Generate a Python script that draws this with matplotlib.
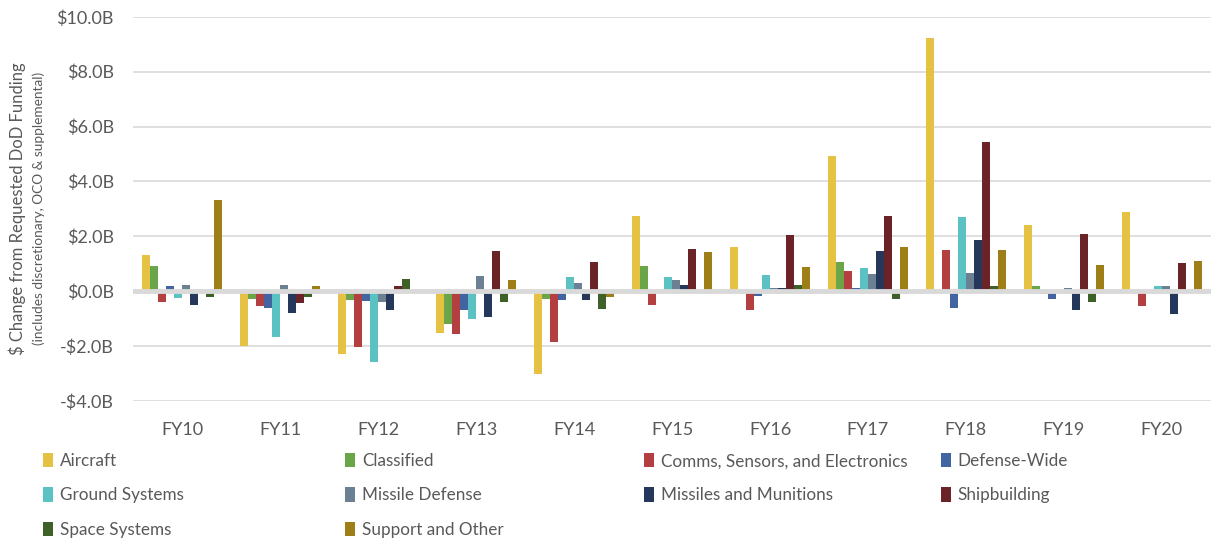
import matplotlib.pyplot as plt
import numpy as np

years = ["FY10", "FY11", "FY12", "FY13", "FY14", "FY15", "FY16", "FY17", "FY18", "FY19", "FY20"]

# $B change from requested, per category
aircraft = [1.30, -2.00, -2.30, -1.54, -3.02, 2.75, 1.62, 4.94, 9.22, 2.40, 2.90]
classified = [0.92, -0.27, -0.32, -1.20, -0.27, 0.90, 0.0, 1.05, 0.0, 0.17, 0.0]
comms = [-0.38, -0.55, -2.05, -1.57, -1.86, -0.49, -0.70, 0.74, 1.50, -0.10, -0.54]
defense_wide = [0.17, -0.60, -0.37, -0.70, -0.32, 0.0, -0.18, 0.10, -0.60, -0.30, 0.0]
ground = [-0.24, -1.67, -2.58, -1.03, 0.50, 0.52, 0.57, 0.85, 2.70, 0.0, 0.19]
missile_def = [0.22, 0.24, -0.40, 0.55, 0.28, 0.39, 0.12, 0.63, 0.67, 0.13, 0.19]
munitions = [-0.49, -0.79, -0.68, -0.95, -0.32, 0.24, 0.10, 1.46, 1.85, -0.70, -0.83]
shipbuilding = [0.0, -0.44, 0.19, 1.46, 1.07, 1.54, 2.05, 2.73, 5.43, 2.09, 1.02]
space = [-0.20, -0.20, 0.44, -0.40, -0.66, 0.0, 0.22, -0.29, 0.17, -0.41, 0.0]
support = [3.33, 0.19, 0.0, 0.41, -0.23, 1.43, 0.88, 1.62, 1.50, 0.94, 1.10]

labels = ["Aircraft", "Classified", "Comms, Sensors, and Electronics", "Defense-Wide",
          "Ground Systems", "Missile Defense", "Missiles and Munitions", "Shipbuilding",
          "Space Systems", "Support and Other"]
series = [aircraft, classified, comms, defense_wide, ground, missile_def,
          munitions, shipbuilding, space, support]
colors = ["#E6C244", "#6AA54A", "#B33F40", "#4264A1", "#5BC1C3", "#6C8094",
          "#25375B", "#6A2428", "#3E6128", "#9E7E17"]

plt.rcParams['font.family'] = ['Lato', 'DejaVu Sans']
text_col = "#595959"

fig = plt.figure(figsize=(12.12, 5.41), dpi=100)
ax = fig.add_axes([0.110, 0.259, 0.889, 0.710])

x = np.arange(len(years))
w = 0.082
bars = []
for i, (vals, lab, c) in enumerate(zip(series, labels, colors)):
    b = ax.bar(x + (i - 4.5) * w, vals, w, color=c, label=lab, zorder=2)
    bars.append(b)

ticks = np.arange(-4, 11, 2)
ax.set_xlim(-0.5, len(years) - 0.5)
ax.set_ylim(-4, 10)
ax.set_yticks(ticks)
ax.set_yticklabels([("-$%.1fB" % -v) if v < 0 else ("$%.1fB" % v) for v in ticks])
ax.set_xticks(x)
ax.set_xticklabels(years)
ax.tick_params(axis='both', length=0, labelsize=13, colors=text_col)
ax.tick_params(axis='y', pad=14)
ax.tick_params(axis='x', pad=15)
ax.grid(axis='y', color='#D9D9D9', lw=1.2, zorder=0)
ax.axhline(0, color='#D9D9D9', lw=3.5, zorder=3)
for s in ax.spines.values():
    s.set_visible(False)

fig.text(0.014, 0.614, "$ Change from Requested DoD Funding", rotation=90,
         ha='center', va='center', fontsize=12, color=text_col)
fig.text(0.032, 0.614, "(includes discretionary, OCO & supplemental)", rotation=90,
         ha='center', va='center', fontsize=9.8, color=text_col)

# legend laid out in 4 fixed columns, filled row-wise
col_x = [0.0298, 0.279, 0.5255, 0.7705]
for c in range(4):
    idx = list(range(c, len(labels), 4))
    fig.legend([bars[i] for i in idx], [labels[i] for i in idx],
               loc='upper left', bbox_to_anchor=(col_x[c], 0.175), frameon=False,
               fontsize=12.3, labelcolor=text_col, handlelength=0.6, handleheight=0.9,
               handletextpad=0.4, labelspacing=1.07, borderaxespad=0)

fig.savefig("out.png", dpi=100)
